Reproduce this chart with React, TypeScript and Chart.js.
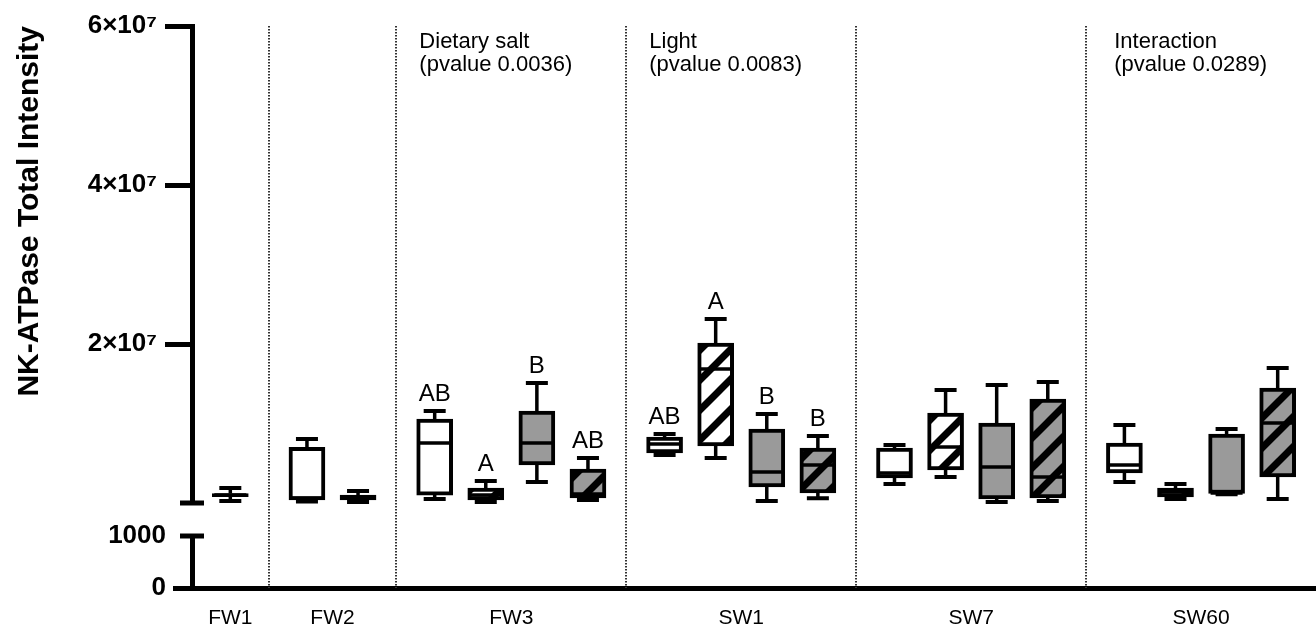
import { useEffect, useRef } from 'react';
import { Chart, registerables } from 'chart.js';

Chart.register(...registerables);

// Sampling groups along the x axis and how many boxes each one holds
const groupNames = ['FW1', 'FW2', 'FW3', 'SW1', 'SW7', 'SW60'];
const boxesPerGroup = [1, 2, 4, 4, 4, 4];

// Fill per box: 0 white, 1 white hatched, 2 grey, 3 grey hatched
const boxFill = [0, 0, 1, 0, 1, 2, 3, 0, 1, 2, 3, 0, 1, 2, 3, 0, 1, 2, 3];

// Box statistics (total intensity)
const whiskerLow = [
  2.5e5,
  2.0e5, 1.3e5,
  5.0e5, 1.3e5, 2.64e6, 3.8e5,
  6.04e6, 5.66e6, 2.5e5, 6.0e5,
  2.39e6, 3.27e6, 1.3e5, 2.5e5,
  2.64e6, 5.0e5, 1.1e6, 5.0e5,
];
const quartile1 = [
  8.0e5,
  4.0e5, 4.0e5,
  1.0e6, 3.8e5, 4.78e6, 6.3e5,
  6.29e6, 7.17e6, 2.01e6, 1.26e6,
  3.14e6, 4.15e6, 5.0e5, 6.3e5,
  3.77e6, 7.5e5, 1.2e6, 3.27e6,
];
const medians = [
  1.0e6,
  6.0e5, 7.5e5,
  7.55e6, 1.0e6, 7.55e6, 1.13e6,
  7.42e6, 1.686e7, 3.9e6, 4.78e6,
  3.77e6, 7.04e6, 4.53e6, 3.27e6,
  4.78e6, 1.38e6, 1.25e6, 1.006e7,
];
const quartile3 = [
  1.2e6,
  7.0e6, 1.0e6,
  1.057e7, 1.89e6, 1.157e7, 4.28e6,
  8.3e6, 2.013e7, 9.31e6, 6.9e6,
  6.92e6, 1.132e7, 1.006e7, 1.308e7,
  7.55e6, 1.89e6, 8.68e6, 1.447e7,
];
const whiskerHigh = [
  1.9e6,
  8.05e6, 1.5e6,
  1.157e7, 2.77e6, 1.509e7, 5.66e6,
  8.68e6, 2.314e7, 1.119e7, 8.43e6,
  7.3e6, 1.421e7, 1.484e7, 1.522e7,
  9.81e6, 2.39e6, 9.31e6, 1.698e7,
];

// Compact letter display above the boxes
const letters = [
  '',
  '', '',
  'AB', 'A', 'B', 'AB',
  'AB', 'A', 'B', 'B',
  '', '', '', '',
  '', '', '', '',
];

// Two-way ANOVA effects written at the top of the plot
const effectNames = ['Dietary salt', 'Light', 'Interaction'];
const effectPValues = ['0.0036', '0.0083', '0.0289'];
const effectAnchorX = [4.45, 8.95, 18.05];

// y tick values of the two axis segments
const upperTicks = [0, 2e7, 4e7, 6e7];
const lowerTicks = [0, 1000];

// Layout of box slots on a linear x scale: one unit per box, a quarter unit of padding per group side
const groupPad = 0.25;
const groupStart: number[] = [];
const groupCenter: number[] = [];
const boxX: number[] = [];
let cursor = 0;
boxesPerGroup.forEach((n) => {
  groupStart.push(cursor);
  for (let i = 0; i < n; i++) boxX.push(cursor + groupPad + i + 0.5);
  groupCenter.push(cursor + (n + 2 * groupPad) / 2);
  cursor += n + 2 * groupPad;
});
const xMax = cursor;

const FONT = '"Liberation Sans", Arial, Helvetica, sans-serif';
const WHITE = '#ffffff';
const GREY = '#9a9a9a';
const BOX_WIDTH = 36;
const CAP_WIDTH = 22;

function makeHatch(bg: string): CanvasPattern | string {
  const P = 30;
  const c = document.createElement('canvas');
  c.width = P;
  c.height = P;
  const g = c.getContext('2d');
  if (!g) return bg;
  g.fillStyle = bg;
  g.fillRect(0, 0, P, P);
  g.strokeStyle = '#000';
  g.lineWidth = 7;
  for (const k of [0, P, 2 * P]) {
    g.beginPath();
    g.moveTo(k + 6, -6);
    g.lineTo(k - P - 6, P + 6);
    g.stroke();
  }
  const pat = g.createPattern(c, 'repeat');
  return pat || bg;
}

function superscript(n: number): string {
  const sup = '⁰¹²³⁴⁵⁶⁷⁸⁹';
  return String(n).split('').map((d) => sup[Number(d)]).join('');
}

const boxExtras = {
  id: 'boxExtras',
  beforeDatasetsDraw(chart: any) {
    const { ctx, chartArea, scales } = chart;
    const x = scales.x;
    ctx.save();
    ctx.strokeStyle = '#333';
    ctx.lineWidth = 2;
    ctx.setLineDash([1.5, 1.5]);
    groupStart.slice(1).forEach((v) => {
      const px = Math.round(x.getPixelForValue(v));
      ctx.beginPath();
      ctx.moveTo(px, chartArea.top);
      ctx.lineTo(px, chartArea.bottom);
      ctx.stroke();
    });
    ctx.restore();
  },
  afterDatasetsDraw(chart: any) {
    const { ctx, chartArea, scales } = chart;
    const x = scales.x;
    const y = scales.y;
    ctx.save();
    ctx.strokeStyle = '#000';
    ctx.lineCap = 'butt';
    boxX.forEach((bx, i) => {
      const px = x.getPixelForValue(bx);
      const yHi = y.getPixelForValue(whiskerHigh[i]);
      const yQ3 = y.getPixelForValue(quartile3[i]);
      const yQ1 = y.getPixelForValue(quartile1[i]);
      const yLo = y.getPixelForValue(whiskerLow[i]);
      const yMed = y.getPixelForValue(medians[i]);
      // whiskers
      ctx.lineWidth = 3.5;
      ctx.beginPath();
      ctx.moveTo(px, yQ3);
      ctx.lineTo(px, yHi);
      ctx.moveTo(px, yQ1);
      ctx.lineTo(px, yLo);
      ctx.stroke();
      // caps
      ctx.lineWidth = 4;
      ctx.beginPath();
      ctx.moveTo(px - CAP_WIDTH / 2, yHi);
      ctx.lineTo(px + CAP_WIDTH / 2, yHi);
      ctx.moveTo(px - CAP_WIDTH / 2, yLo);
      ctx.lineTo(px + CAP_WIDTH / 2, yLo);
      ctx.stroke();
      // median
      ctx.lineWidth = 3.5;
      ctx.beginPath();
      ctx.moveTo(px - BOX_WIDTH / 2 + 2, yMed);
      ctx.lineTo(px + BOX_WIDTH / 2 - 2, yMed);
      ctx.stroke();
      // letters
      if (letters[i]) {
        ctx.fillStyle = '#000';
        ctx.font = `24px ${FONT}`;
        ctx.textAlign = 'center';
        ctx.textBaseline = 'alphabetic';
        ctx.fillText(letters[i], px, yHi - 10);
      }
    });
    // effect annotations
    ctx.fillStyle = '#000';
    ctx.font = `22px ${FONT}`;
    ctx.textAlign = 'left';
    ctx.textBaseline = 'alphabetic';
    effectNames.forEach((name, i) => {
      const px = x.getPixelForValue(effectAnchorX[i]);
      ctx.fillText(name, px, chartArea.top + 22);
      ctx.fillText(`(pvalue ${effectPValues[i]})`, px, chartArea.top + 45);
    });
    ctx.restore();
  },
  afterDraw(chart: any) {
    // axis break marks across the y axis line
    const { ctx, scales } = chart;
    const axisX = scales.x.left;
    const marks = [scales.y.getPixelForValue(upperTicks[0]), scales.yLow.getPixelForValue(lowerTicks[1])];
    ctx.save();
    ctx.strokeStyle = '#000';
    ctx.lineWidth = 5;
    marks.forEach((py) => {
      ctx.beginPath();
      ctx.moveTo(axisX - 12, py);
      ctx.lineTo(axisX + 12, py);
      ctx.stroke();
    });
    ctx.restore();
  },
};

export default function App() {
  const canvasRef = useRef<HTMLCanvasElement>(null);

  useEffect(() => {
    const canvas = canvasRef.current;
    if (!canvas) return;
    const fillStyles = [WHITE, makeHatch(WHITE), GREY, makeHatch(GREY)];
    const tickFont = { family: FONT, size: 26, weight: 'bold' as const };

    const chart = new Chart(canvas, {
      type: 'bar',
      data: {
        datasets: [
          {
            data: boxX.map((bx, i) => ({ x: bx, y: [quartile1[i], quartile3[i]] })) as any,
            backgroundColor: boxFill.map((f) => fillStyles[f]) as any,
            borderColor: '#000',
            borderWidth: 4,
            borderSkipped: false,
            barThickness: BOX_WIDTH,
            xAxisID: 'x',
            yAxisID: 'y',
          },
        ],
      },
      options: {
        animation: false,
        responsive: true,
        maintainAspectRatio: false,
        layout: { padding: { left: 0, right: 0, top: 26, bottom: 0 } },
        plugins: { legend: { display: false }, tooltip: { enabled: false } },
        scales: {
          x: {
            type: 'linear',
            min: 0,
            max: xMax,
            offset: false,
            afterBuildTicks: (s: any) => {
              s.ticks = groupCenter.map((v) => ({ value: v }));
            },
            afterFit: (s: any) => {
              s.height = 42;
            },
            ticks: {
              autoSkip: false,
              maxRotation: 0,
              padding: 18,
              color: '#000',
              font: { family: FONT, size: 21 },
              callback: (_v: any, i: number) => groupNames[i],
            },
            grid: { display: false, drawTicks: false },
            border: { display: true, width: 5, color: '#000' },
          },
          yLow: {
            type: 'linear',
            position: 'left',
            stack: 'v',
            stackWeight: 52,
            min: lowerTicks[0],
            max: lowerTicks[1],
            afterBuildTicks: (s: any) => {
              s.ticks = lowerTicks.map((v) => ({ value: v }));
            },
            afterFit: (s: any) => {
              s.width = 192;
            },
            ticks: {
              autoSkip: false,
              padding: 7,
              color: '#000',
              font: tickFont,
              callback: (v: any) => String(v),
            },
            grid: {
              drawOnChartArea: false,
              tickLength: 19,
              tickWidth: 5,
              tickColor: (c: any) => (c.tick && c.tick.value === lowerTicks[1] ? 'rgba(0,0,0,0)' : '#000'),
            },
            border: { display: true, width: 5, color: '#000' },
          },
          yGap: {
            type: 'linear',
            position: 'left',
            stack: 'v',
            stackWeight: 33,
            afterFit: (s: any) => {
              s.width = 192;
            },
            ticks: { display: false },
            grid: { display: false, drawTicks: false },
            border: { display: false },
          },
          y: {
            type: 'linear',
            position: 'left',
            stack: 'v',
            stackWeight: 477,
            min: upperTicks[0],
            max: upperTicks[upperTicks.length - 1],
            afterBuildTicks: (s: any) => {
              s.ticks = upperTicks.map((v) => ({ value: v }));
            },
            afterFit: (s: any) => {
              s.width = 192;
            },
            ticks: {
              autoSkip: false,
              padding: 8,
              color: '#000',
              font: tickFont,
              callback: (v: any) => (v === 0 ? '' : `${v / 1e7}×10${superscript(7)}`),
            },
            grid: {
              drawOnChartArea: false,
              tickLength: 27,
              tickWidth: 5,
              tickColor: (c: any) => (c.tick && c.tick.value === upperTicks[0] ? 'rgba(0,0,0,0)' : '#000'),
            },
            border: { display: true, width: 5, color: '#000' },
            title: {
              display: true,
              text: 'NK-ATPase Total Intensity',
              align: 'end',
              color: '#000',
              font: { family: FONT, size: 30, weight: 'bold' },
              padding: { top: 12, bottom: 0 },
            },
          },
        },
      } as any,
      plugins: [boxExtras],
    });

    return () => chart.destroy();
  }, []);

  return (
    <div style={{ position: 'fixed', left: 0, top: 0, width: 1316, height: 630, background: '#fff' }}>
      <canvas ref={canvasRef} />
    </div>
  );
}
